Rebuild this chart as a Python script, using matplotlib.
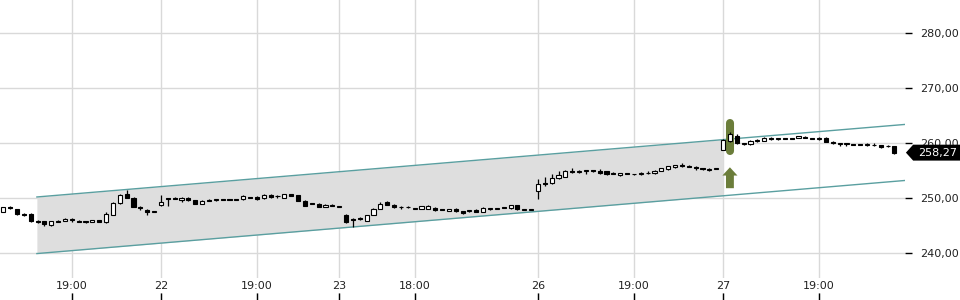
import numpy as np
import matplotlib
matplotlib.use("Agg")
import matplotlib.pyplot as plt
from matplotlib.patches import Polygon, FancyArrow
from matplotlib import transforms

# candle data, one entry per bar (index based x axis)
opens = [247.45, 248.35, 248.0, 247.0, 247.1, 245.9, 245.8, 245.1, 245.8, 245.9,
         246.0, 245.9, 245.6, 245.7, 246.0, 245.6, 247.0, 249.1, 250.7, 250.1,
         248.3, 247.8, 247.5, 248.8, 249.9, 250.1, 249.7, 250.1, 249.6, 249.0,
         249.7, 249.6, 249.7, 249.7, 249.7, 249.8, 250.1, 250.2, 250.0, 250.6,
         250.3, 250.1, 250.7, 250.5, 249.5, 249.0, 249.0, 248.4, 248.7, 248.4,
         247.0, 246.2, 246.3, 245.9, 247.0, 248.1, 249.2, 248.8, 248.3, 248.4,
         248.1, 248.1, 248.1, 248.2, 248.0, 247.7, 248.1, 247.6, 247.6, 247.9,
         247.5, 248.1, 248.1, 248.25, 248.2, 248.7, 247.9, 247.9, 251.3, 252.7,
         252.7, 253.6, 253.9, 255.0, 254.7, 255.0, 255.0, 255.0, 254.9, 254.5,
         254.2, 254.5, 254.4, 254.3, 254.5, 254.5, 255.0, 255.3, 255.6, 255.9,
         255.8, 255.7, 255.4, 255.2, 255.3, 258.8, 260.4, 261.3, 259.8, 259.8,
         260.4, 260.4, 261.0, 260.8, 260.85, 260.9, 261.0, 261.2, 260.85, 260.8,
         261.0, 260.1, 259.8, 259.8, 259.75, 259.8, 259.7, 259.6, 259.6, 259.4,
         259.4]
highs = [248.4, 248.6, 248.1, 247.3, 247.2, 246.0, 245.9, 245.9, 246.0, 246.3,
         246.3, 246.0, 245.8, 246.1, 246.1, 247.4, 249.2, 250.7, 251.4, 250.2,
         248.6, 248.1, 247.55, 250.6, 250.0, 250.2, 250.2, 250.2, 249.7, 249.6,
         249.9, 249.8, 249.9, 249.9, 249.9, 250.6, 250.15, 250.3, 250.7, 250.7,
         250.5, 250.8, 250.8, 250.6, 249.6, 249.05, 249.1, 248.9, 248.9, 248.45,
         247.1, 246.4, 246.5, 247.0, 248.2, 249.3, 249.5, 248.9, 248.5, 248.5,
         248.15, 248.6, 248.7, 248.3, 248.1, 248.1, 248.2, 247.7, 247.9, 248.0,
         248.3, 248.2, 248.15, 248.4, 248.8, 248.8, 247.95, 247.95, 253.4, 253.9,
         254.3, 254.9, 255.2, 255.5, 255.1, 255.1, 255.2, 255.3, 255.0, 254.7,
         254.6, 254.6, 254.45, 254.7, 255.0, 255.1, 255.5, 255.9, 256.1, 256.3,
         256.1, 255.8, 255.5, 255.5, 255.35, 260.7, 262.0, 261.7, 260.1, 260.5,
         260.7, 261.1, 261.1, 261.0, 260.9, 261.0, 261.35, 261.25, 260.9, 261.1,
         261.1, 260.3, 260.1, 260.1, 259.8, 259.9, 260.1, 260.0, 259.65, 259.7,
         259.5]
lows = [247.4, 248.1, 247.0, 246.7, 245.7, 245.5, 245.0, 245.0, 245.6, 245.8,
        245.6, 245.6, 245.4, 245.6, 245.6, 245.5, 246.9, 249.0, 250.0, 248.3,
        247.8, 246.9, 247.45, 248.6, 248.5, 249.8, 249.3, 249.5, 248.9, 248.9,
        249.4, 249.4, 249.6, 249.6, 249.6, 249.7, 250.0, 249.7, 249.9, 250.1,
        250.1, 250.0, 250.3, 249.4, 248.5, 248.9, 248.3, 248.3, 248.5, 248.35,
        245.4, 244.8, 246.1, 245.8, 246.9, 248.0, 248.7, 248.2, 248.0, 248.2,
        248.05, 248.0, 248.0, 247.7, 247.8, 247.6, 247.5, 247.1, 247.4, 247.4,
        247.4, 247.9, 248.05, 248.15, 248.1, 247.9, 247.85, 247.85, 249.8, 252.2,
        252.6, 253.5, 253.8, 254.6, 254.6, 254.3, 254.8, 254.4, 254.2, 254.3,
        254.1, 254.3, 254.2, 254.2, 254.4, 254.4, 254.9, 255.2, 255.5, 255.7,
        255.6, 255.2, 255.1, 254.9, 255.25, 258.7, 260.2, 259.9, 259.6, 259.7,
        260.2, 260.3, 260.6, 260.6, 260.7, 260.8, 260.95, 260.85, 260.7, 260.6,
        260.2, 259.9, 259.5, 259.5, 259.6, 259.7, 259.4, 259.55, 259.2, 259.35,
        258.1]
closes = [248.3, 248.2, 247.1, 246.9, 245.8, 245.7, 245.2, 245.8, 245.7, 246.2,
          246.0, 245.7, 245.6, 246.0, 245.7, 247.1, 249.1, 250.5, 250.1, 248.4,
          248.2, 247.4, 247.5, 249.3, 249.85, 249.9, 250.1, 249.6, 249.0, 249.5,
          249.5, 249.6, 249.6, 249.65, 249.65, 250.3, 250.05, 249.8, 250.6, 250.2,
          250.3, 250.7, 250.4, 249.5, 248.6, 248.95, 248.4, 248.8, 248.6, 248.4,
          245.6, 246.1, 246.2, 246.9, 248.1, 248.9, 248.8, 248.3, 248.3, 248.3,
          248.1, 248.5, 248.6, 247.8, 247.9, 248.1, 247.6, 247.3, 247.6, 247.5,
          248.2, 248.1, 248.1, 248.2, 248.7, 248.0, 247.9, 247.9, 252.6, 252.6,
          253.6, 254.2, 254.9, 254.8, 255.0, 255.0, 254.9, 254.5, 254.3, 254.4,
          254.5, 254.4, 254.3, 254.6, 254.5, 255.0, 255.4, 255.8, 256.0, 255.8,
          255.7, 255.4, 255.3, 255.2, 255.3, 260.5, 261.6, 260.0, 259.8, 260.4,
          260.4, 261.0, 260.7, 260.8, 260.75, 260.8, 261.3, 260.9, 260.75, 260.8,
          260.2, 260.0, 259.8, 259.8, 259.65, 259.7, 259.7, 259.6, 259.3, 259.4,
          258.27]

tick_idx = [10, 23, 37, 49, 60, 78, 92, 105, 119]
tick_labels = ['19:00', '22', '19:00', '23', '18:00', '26', '19:00', '27', '19:00']
y_ticks = [240, 250, 260, 270, 280]

# trend channel
channel_x = [4.9, 131.5]
channel_upper = [250.2, 263.4]
channel_lower = [239.9, 253.2]
channel_fill_end = 105

signal_idx = 106

o = np.array(opens)
h = np.array(highs)
l = np.array(lows)
c = np.array(closes)
x = np.arange(len(o))

fig = plt.figure(figsize=(9.6, 3.0), dpi=100)
ax = fig.add_axes([0, 0, 905 / 960, 1])

ax.set_xlim(-0.48, 131.54)
ax.set_ylim(231.45, 286.05)

# grid
for t in y_ticks:
    ax.axhline(t, color='#d9d9d9', lw=1, zorder=0)
for t in tick_idx:
    ax.axvline(t, color='#d9d9d9', lw=1, zorder=0)

# channel
fx = np.array([channel_x[0], channel_fill_end])
ax.fill_between(fx, np.interp(fx, channel_x, channel_lower), np.interp(fx, channel_x, channel_upper),
                color='#dedede', lw=0, zorder=1)
ax.plot(channel_x, channel_upper, color='#5a9fa0', lw=1, zorder=2)
ax.plot(channel_x, channel_lower, color='#5a9fa0', lw=1, zorder=2)

# signal highlight
ax.plot([signal_idx, signal_idx], [h[signal_idx] - 3.4, h[signal_idx] + 1.7], color='#6b7d3a',
        lw=5.8, solid_capstyle='round', zorder=3)
ax.add_patch(FancyArrow(signal_idx, l[signal_idx] - 8.4, 0, 3.8, width=1.15, head_width=2.2,
                        head_length=1.5, length_includes_head=True, color='#6b7d3a', lw=0, zorder=3))

# candles
up = c >= o
ax.vlines(x, l, h, color='black', lw=0.9, zorder=4)
body_lo = np.minimum(o, c)
body_h = np.maximum(np.abs(c - o), 0.15)
ax.bar(x, body_h, bottom=body_lo, width=0.6, color=np.where(up, 'white', 'black'),
       edgecolor='black', lw=0.8, zorder=5)

# axes styling
for s in ax.spines.values():
    s.set_visible(False)
ax.yaxis.tick_right()
ax.set_yticks(y_ticks)
ax.set_yticklabels([f"{v:.2f}".replace('.', ',') for v in y_ticks])
ax.tick_params(axis='y', length=5, width=1, color='black', pad=6, labelsize=8, labelcolor='#222222')
ax.set_xticks(tick_idx)
ax.set_xticklabels(tick_labels)
ax.tick_params(axis='x', direction='in', length=5, width=1, color='black', pad=-14, labelsize=8,
               labelcolor='#222222')
for lab in ax.get_xticklabels():
    lab.set_bbox(dict(fc='white', ec='none', pad=1.5))

# last price label
tr = transforms.blended_transform_factory(ax.transAxes, ax.transData)
last = c[-1]
pw = 55 / 905
hh = 1.45
poly = Polygon([[1.001, last], [1.009, last + hh], [1.0 + pw + 0.01, last + hh],
                [1.0 + pw + 0.01, last - hh], [1.009, last - hh]], closed=True,
               transform=tr, fc='black', ec='none', clip_on=False, zorder=6)
ax.add_patch(poly)
ax.text(1.036, last, f"{last:.2f}".replace('.', ','), transform=tr, color='white', fontsize=8,
        ha='center', va='center', zorder=7, clip_on=False)

fig.savefig('out.png', dpi=100)
